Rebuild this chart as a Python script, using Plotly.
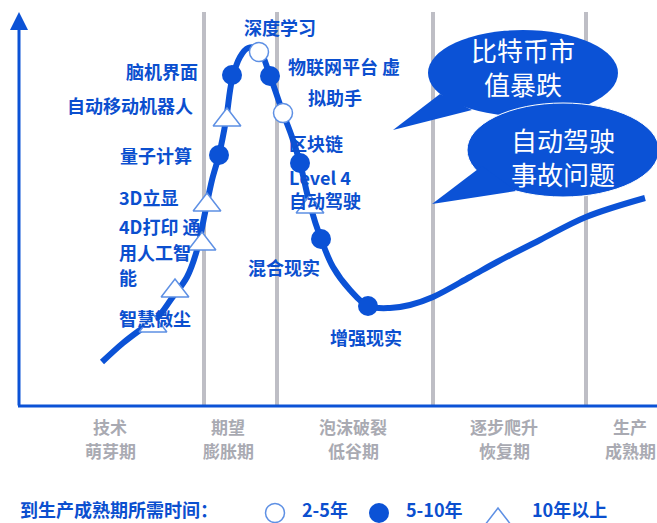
import plotly.graph_objects as go

# ---------------- data ----------------
curve_x = [102, 123, 140, 157, 172, 187, 197, 205, 212, 219, 226, 232, 240, 248, 259, 270, 283, 292, 300, 310, 321, 333, 350, 368, 390, 410, 433, 470, 497, 540, 586, 645]
curve_y = [362, 343, 330, 318, 298, 277, 250, 213, 180, 155, 120, 80, 57, 48, 50, 76, 113, 137, 163, 205, 239, 267, 290, 306, 308, 305, 297, 277, 262, 240, 217, 198]

open_names = ["深度学习", "虚拟助手"]
open_x = [259, 283]
open_y = [52, 113]

filled_names = ["量子计算", "脑机界面", "物联网平台", "区块链", "混合现实", "增强现实"]
filled_x = [219, 232, 270, 300, 321, 368]
filled_y = [155, 75, 76, 163, 239, 306]

tri_names = ["智慧微尘", "通用人工智能", "4D打印", "3D立显", "自动移动机器人", "Level 4 自动驾驶"]
tri_x = [153, 175, 202, 207, 227, 310]
tri_y = [326, 291, 244, 205, 120, 207]

phase_boundaries = [204, 277, 433, 586]
phase_top = ["技术", "期望", "泡沫破裂", "逐步爬升", "生产"]
phase_bottom = ["萌芽期", "膨胀期", "低谷期", "恢复期", "成熟期"]

legend_title = "到生产成熟期所需时间："
legend_labels = ["2-5年", "5-10年", "10年以上"]

bubble1_lines = ["比特币市", "值暴跌"]
bubble2_lines = ["自动驾驶", "事故问题"]

# ---------------- styling ----------------
BLUE = "#0B52D6"
TXT = "#0B4FCF"
GRAY = "#BEBEC5"
GRAYTXT = "#A9AAB2"
OUTL = "#5E90E4"
FONT = "Noto Sans CJK SC"

# label layout: (text, x, y, anchor)
item_labels = [
    ("深度学习", 243, 27, "left"),
    ("脑机界面", 199, 71, "right"),
    ("自动移动机器人", 194, 105, "right"),
    ("量子计算", 193, 155, "right"),
    ("3D立显", 118, 197, "left"),
    ("4D打印 通", 118, 226, "left"),
    ("用人工智", 118, 252, "left"),
    ("能", 118, 277, "left"),
    ("智慧微尘", 118, 318, "left"),
    ("物联网平台 虚", 287, 66, "left"),
    ("拟助手", 307, 97, "left"),
    ("区块链", 288, 143, "left"),
    ("Level 4<br>自动驾驶", 288, 188, "left"),
    ("混合现实", 247, 267, "left"),
    ("增强现实", 329, 337, "left"),
]
phase_cx = [110, 228, 353, 504, 630]

fig = go.Figure()

# curve
fig.add_trace(go.Scatter(x=curve_x, y=curve_y, mode="lines",
                         line=dict(color=BLUE, width=6, shape="spline", smoothing=1.0),
                         hoverinfo="skip", showlegend=False))
# markers
fig.add_trace(go.Scatter(x=tri_x, y=tri_y, mode="markers", text=tri_names,
                         marker=dict(symbol="triangle-up", size=24, color="white",
                                     line=dict(color=OUTL, width=1.5)), showlegend=False))
fig.add_trace(go.Scatter(x=filled_x, y=filled_y, mode="markers", text=filled_names,
                         marker=dict(symbol="circle", size=20, color=BLUE,
                                     line=dict(color=BLUE, width=0)), showlegend=False))
fig.add_trace(go.Scatter(x=open_x, y=open_y, mode="markers", text=open_names,
                         marker=dict(symbol="circle", size=19, color="white",
                                     line=dict(color=OUTL, width=1.5)), showlegend=False))
# legend markers
fig.add_trace(go.Scatter(x=[275], y=[513], mode="markers",
                         marker=dict(symbol="circle", size=19, color="white", line=dict(color=OUTL, width=1.5)),
                         showlegend=False))
fig.add_trace(go.Scatter(x=[379], y=[513], mode="markers",
                         marker=dict(symbol="circle", size=20, color=BLUE, line=dict(width=0)),
                         showlegend=False))
fig.add_trace(go.Scatter(x=[498], y=[520], mode="markers",
                         marker=dict(symbol="triangle-up", size=24, color="white", line=dict(color=OUTL, width=1.5)),
                         showlegend=False))

shapes = []
for bx in phase_boundaries:
    shapes.append(dict(type="line", x0=bx, x1=bx, y0=12, y1=406, xref="x", yref="y",
                       line=dict(color=GRAY, width=4), layer="below"))
# x axis
shapes.append(dict(type="line", x0=18, x1=657, y0=406, y1=406, line=dict(color=BLUE, width=3), layer="below"))

# bubble 1
shapes.append(dict(type="circle", x0=428, x1=618, y0=30, y1=116, fillcolor=BLUE,
                   line=dict(width=0), layer="above"))
shapes.append(dict(type="path", path="M 440,94 L 393,130 L 472,110 Z", fillcolor=BLUE,
                   line=dict(width=0), layer="above"))
# bubble 2
shapes.append(dict(type="circle", x0=467, x1=659, y0=103, y1=197, fillcolor=BLUE,
                   line=dict(color="white", width=1), layer="above"))
shapes.append(dict(type="path", path="M 482,166 L 432,204 L 516,191 Z", fillcolor=BLUE,
                   line=dict(width=0), layer="above"))

annotations = []
# y axis arrow
annotations.append(dict(x=19, y=12, ax=19, ay=407, xref="x", yref="y", axref="x", ayref="y",
                        text="", showarrow=True, arrowhead=2, arrowsize=1.2, arrowwidth=3,
                        arrowcolor=BLUE))
for t, x, y, anc in item_labels:
    annotations.append(dict(x=x, y=y, text=t, showarrow=False, xanchor=anc, yanchor="middle",
                            align=anc, borderpad=0,
                            font=dict(family=FONT, size=18, color=TXT, weight="bold")))
for cx, t1, t2 in zip(phase_cx, phase_top, phase_bottom):
    annotations.append(dict(x=cx, y=426, text=t1, showarrow=False, xanchor="center",
                            yanchor="middle", borderpad=0,
                            font=dict(family=FONT, size=17, color=GRAYTXT, weight="bold")))
    annotations.append(dict(x=cx, y=450.5, text=t2, showarrow=False, xanchor="center",
                            yanchor="middle", borderpad=0,
                            font=dict(family=FONT, size=17, color=GRAYTXT, weight="bold")))
# bubble texts
annotations.append(dict(x=523, y=66.5, text="<br>".join(bubble1_lines), showarrow=False,
                        xanchor="center", yanchor="middle", align="center",
                        font=dict(family=FONT, size=26, color="white")))
annotations.append(dict(x=563, y=156, text="<br>".join(bubble2_lines), showarrow=False,
                        xanchor="center", yanchor="middle", align="center",
                        font=dict(family=FONT, size=26, color="white")))
# legend texts
annotations.append(dict(x=18, y=509, text=legend_title, showarrow=False, xanchor="left", yanchor="middle",
                        font=dict(family=FONT, size=18, color=TXT, weight="bold")))
for x, t in zip([300, 404, 530], legend_labels):
    annotations.append(dict(x=x, y=509, text=t, showarrow=False, xanchor="left", yanchor="middle",
                            font=dict(family=FONT, size=18, color=TXT, weight="bold")))

fig.update_layout(
    width=657, height=523, margin=dict(l=0, r=0, t=0, b=0),
    paper_bgcolor="white", plot_bgcolor="white",
    xaxis=dict(range=[0, 657], visible=False, fixedrange=True),
    yaxis=dict(range=[523, 0], visible=False, fixedrange=True),
    shapes=shapes, annotations=annotations, showlegend=False,
)
fig.write_html("out.html", config={"displayModeBar": False},
               post_script="document.body.style.margin='0';")
